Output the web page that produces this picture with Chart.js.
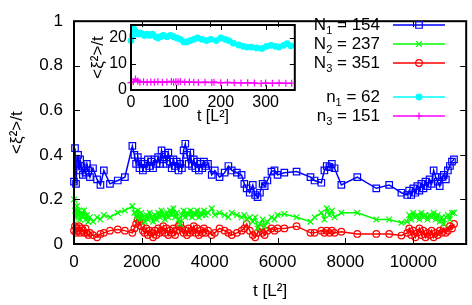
<!DOCTYPE html>
<html>
<head>
<meta charset="utf-8">
<script src="https://cdn.jsdelivr.net/npm/chart.js@4.4.1/dist/chart.umd.min.js"></script>
<style>
  html, body { margin: 0; padding: 0; background: #fff; }
  #wrap { position: relative; width: 472px; height: 305px; }
  canvas { position: absolute; left: 0; top: 0; }
</style>
</head>
<body>
<div id="wrap">
  <canvas id="mainChart" width="472" height="305"></canvas>
  <canvas id="insetChart" width="300" height="126"></canvas>
</div>
<script>
// time points shared by the three big runs
const tTimes = [0, 30, 60, 90, 120, 150, 180, 220, 260, 300, 340, 380, 420, 470,
  560, 680, 780, 880, 1060, 1290, 1500, 1720,
  1780, 1830, 1880, 1930, 1980, 2030, 2080, 2130, 2180, 2230, 2280, 2330, 2380, 2430, 2480,
  2530, 2580, 2630, 2680, 2730, 2780, 2830, 2880, 2930, 2980, 3030, 3080, 3130, 3180, 3230,
  3280, 3330, 3380, 3430, 3480, 3530, 3580, 3630, 3680, 3730, 3780, 3830, 3880,
  3950, 4060, 4150, 4290, 4440, 4550, 4650, 4800, 4940, 5020, 5090, 5180, 5270, 5340, 5410,
  5480, 5560, 5620, 5700, 5820, 5910, 6000,
  6200, 6560, 6970, 7090, 7290, 7380, 7450, 7530, 7600, 7680, 7880, 8350, 8910, 9290, 9650,
  9820, 9880, 9940, 10000, 10060, 10120, 10180, 10240, 10300, 10360, 10420, 10480, 10540,
  10600, 10660, 10720, 10780, 10840, 10900, 10960, 11020, 11080, 11140, 11200];

const bigN1 = [0.28, 0.43, 0.27, 0.36, 0.40, 0.33, 0.38, 0.35, 0.31, 0.34, 0.32, 0.36, 0.33, 0.30,
  0.34, 0.29, 0.265, 0.33, 0.27, 0.285, 0.30, 0.44,
  0.40, 0.36, 0.39, 0.34, 0.37, 0.33, 0.36, 0.34, 0.38, 0.35, 0.37, 0.34, 0.38, 0.36, 0.39,
  0.36, 0.42, 0.38, 0.40, 0.36, 0.41, 0.37, 0.34, 0.38, 0.35, 0.37, 0.33, 0.36, 0.34, 0.42,
  0.45, 0.40, 0.36, 0.41, 0.35, 0.38, 0.34, 0.37, 0.33, 0.36, 0.34, 0.37, 0.35,
  0.36, 0.31, 0.33, 0.30, 0.32, 0.35, 0.33, 0.32, 0.31, 0.27, 0.25, 0.23, 0.265, 0.22, 0.21,
  0.23, 0.27, 0.26, 0.285, 0.325, 0.33, 0.31,
  0.32, 0.325, 0.30, 0.285, 0.275, 0.33, 0.35, 0.345, 0.36, 0.34, 0.265, 0.30, 0.25, 0.265, 0.23,
  0.22, 0.24, 0.22, 0.25, 0.23, 0.26, 0.24, 0.27, 0.25, 0.28, 0.26, 0.29, 0.27,
  0.33, 0.30, 0.28, 0.26, 0.30, 0.31, 0.29, 0.33, 0.35, 0.37, 0.38];

const bigN2 = [0.20, 0.15, 0.12, 0.17, 0.13, 0.15, 0.11, 0.14, 0.12, 0.15, 0.11, 0.13, 0.10, 0.12,
  0.10, 0.12, 0.11, 0.13, 0.12, 0.14, 0.15, 0.17,
  0.14, 0.12, 0.15, 0.11, 0.14, 0.12, 0.10, 0.13, 0.11, 0.14, 0.12, 0.10, 0.13, 0.11, 0.14,
  0.12, 0.15, 0.13, 0.11, 0.14, 0.12, 0.15, 0.13, 0.16, 0.12, 0.14, 0.11, 0.09, 0.13, 0.15,
  0.12, 0.14, 0.13, 0.15, 0.12, 0.14, 0.13, 0.15, 0.12, 0.14, 0.13, 0.15, 0.13,
  0.14, 0.16, 0.13, 0.14, 0.13, 0.12, 0.14, 0.13, 0.12, 0.13, 0.11, 0.12, 0.10, 0.12, 0.07,
  0.09, 0.11, 0.08, 0.10, 0.12, 0.11, 0.13,
  0.135, 0.12, 0.10, 0.12, 0.14, 0.11, 0.16, 0.13, 0.15, 0.12, 0.14, 0.14, 0.11, 0.11, 0.095,
  0.10, 0.13, 0.11, 0.14, 0.12, 0.13, 0.11, 0.14, 0.12, 0.13, 0.11, 0.13, 0.12,
  0.14, 0.11, 0.13, 0.10, 0.12, 0.09, 0.12, 0.13, 0.11, 0.14, 0.14];

const bigN3 = [0.06, 0.08, 0.05, 0.07, 0.06, 0.08, 0.05, 0.07, 0.06, 0.05, 0.07, 0.05, 0.04, 0.05,
  0.04, 0.03, 0.045, 0.05, 0.06, 0.065, 0.06, 0.05,
  0.07, 0.09, 0.11, 0.10, 0.08, 0.06, 0.05, 0.07, 0.04, 0.06, 0.05, 0.03, 0.06, 0.04, 0.07,
  0.05, 0.06, 0.08, 0.05, 0.07, 0.04, 0.06, 0.05, 0.07, 0.04, 0.06, 0.08, 0.09, 0.07, 0.05,
  0.06, 0.04, 0.07, 0.05, 0.06, 0.08, 0.05, 0.07, 0.04, 0.06, 0.05, 0.07, 0.05,
  0.06, 0.04, 0.05, 0.07, 0.06, 0.05, 0.04, 0.05, 0.06, 0.07, 0.09, 0.06, 0.04, 0.03, 0.05,
  0.07, 0.05, 0.04, 0.06, 0.07, 0.06, 0.07,
  0.07, 0.08, 0.05, 0.05, 0.06, 0.05, 0.06, 0.05, 0.06, 0.05, 0.055, 0.045, 0.045, 0.045, 0.038,
  0.05, 0.07, 0.04, 0.06, 0.03, 0.05, 0.07, 0.04, 0.06, 0.03, 0.05, 0.04, 0.06,
  0.03, 0.05, 0.04, 0.06, 0.05, 0.07, 0.05, 0.06, 0.08, 0.07, 0.09];

// inset: small runs
const smallT1 = [0, 3, 6, 9, 12, 16, 20, 25, 30, 36, 42, 48, 55, 60, 66, 72, 80, 88, 95, 102,
  110, 118, 124, 132, 140, 148, 158, 168, 178, 190, 200, 210, 218, 228, 240, 250, 258, 268,
  280, 292, 302, 312, 322, 330, 340, 348, 356];
const smallN1 = [19, 21, 23.5, 22.5, 22, 21.5, 22, 21.5, 21, 21.5, 21, 21.5, 20.5, 20, 20.5, 21,
  20.5, 21, 20.5, 20, 19.5, 18.5, 18.5, 19, 19.5, 20, 19.5, 19, 19.5, 19, 20, 19.5, 19, 18,
  17.3, 16.8, 16.5, 16.5, 16.2, 16, 16.8, 17.2, 16.8, 16.5, 17.2, 17.8, 17];
const smallT3 = [0, 5, 10, 15, 20, 28, 36, 44, 52, 60, 70, 80, 90, 95, 100, 105, 110, 120, 130,
  140, 150, 165, 180, 185, 200, 215, 230, 245, 260, 275, 290, 300, 315, 330, 345, 358];
const smallN3 = [2.8, 3.2, 4.2, 3.5, 3.0, 3.2, 2.9, 3.1, 3.0, 3.2, 3.0, 3.1, 3.3, 3.0, 3.2, 3.1,
  3.3, 3.0, 3.1, 3.0, 2.9, 3.0, 2.9, 3.0, 2.8, 2.9, 2.8, 2.7, 2.8, 2.7, 2.5, 2.7, 2.6, 2.7,
  2.6, 2.6];

// tick positions
const mainXTicks = [0, 2000, 4000, 6000, 8000, 10000];
const mainYTicks = [0, 0.2, 0.4, 0.6, 0.8, 1];
const insetXTicks = [0, 100, 200, 300];
const insetYTicks = [0, 10, 20];

const keyNames = ['N', 'N', 'N', 'n', 'n'];
const keySubs = ['1', '2', '3', '1', '3'];
const keyCounts = [154, 237, 351, 62, 151];

const FONT = '"Liberation Sans", Arial, sans-serif';

function pts(xs, ys) {
  return xs.map((x, i) => ({x: x, y: ys[i]}));
}

function fixedTicks(list) {
  return s => { s.ticks = list.map(v => ({value: v})); };
}

const BLUE = '#0000ff', GREEN = '#00ff00', RED = '#ff0000', CYAN = '#00ffff', MAGENTA = '#ff00ff';

const mainStyles = [
  {color: BLUE, pointStyle: 'rect', radius: 4.6, fill: false},
  {color: GREEN, pointStyle: 'crossRot', radius: 4, fill: false},
  {color: RED, pointStyle: 'circle', radius: 3.3, fill: false}
];
const insetStyles = [
  {color: CYAN, pointStyle: 'circle', radius: 2.8, fill: true},
  {color: MAGENTA, pointStyle: 'cross', radius: 3.5, fill: false}
];

function makeDataset(label, data, st) {
  return {
    label: label,
    data: data,
    borderColor: st.color,
    backgroundColor: st.color,
    borderWidth: 1.5,
    pointStyle: st.pointStyle,
    pointRadius: st.radius,
    pointBorderWidth: 1.2,
    pointBorderColor: st.color,
    pointBackgroundColor: st.fill ? st.color : 'rgba(0,0,0,0)',
    tension: 0,
    fill: false,
    clip: false
  };
}

// gnuplot-style frame with inward ticks on all four sides
const frameTicks = {
  id: 'frameTicks',
  afterDatasetsDraw(chart, args, opts) {
    const {ctx, chartArea: a} = chart;
    const x = chart.scales.x, y = chart.scales.y;
    const len = opts.len || 6;
    ctx.save();
    ctx.strokeStyle = '#000';
    ctx.lineWidth = 1;
    ctx.beginPath();
    x.ticks.forEach(t => {
      const px = Math.round(x.getPixelForValue(t.value)) + 0.5;
      ctx.moveTo(px, a.bottom); ctx.lineTo(px, a.bottom - len);
      ctx.moveTo(px, a.top); ctx.lineTo(px, a.top + len);
    });
    y.ticks.forEach(t => {
      const py = Math.round(y.getPixelForValue(t.value)) + 0.5;
      ctx.moveTo(a.left, py); ctx.lineTo(a.left + len, py);
      ctx.moveTo(a.right, py); ctx.lineTo(a.right - len, py);
    });
    ctx.stroke();
    ctx.lineWidth = 2;
    ctx.strokeRect(a.left, a.top, a.right - a.left, a.bottom - a.top);
    ctx.restore();
  }
};

// key: text right-justified, sample line to its right
const keyPlugin = {
  id: 'keyPlugin',
  afterDraw(chart, args, opts) {
    const ctx = chart.ctx;
    const styles = mainStyles.concat(insetStyles);
    const rows = opts.rows;
    ctx.save();
    ctx.textBaseline = 'middle';
    keyNames.forEach((name, i) => {
      const y = rows[i];
      const rest = ' = ' + keyCounts[i];
      ctx.font = '17px ' + FONT;
      const wName = ctx.measureText(name).width;
      const wRest = ctx.measureText(rest).width;
      ctx.font = '11px ' + FONT;
      const wSub = ctx.measureText(keySubs[i]).width;
      let x = opts.textRight - wName - wSub - wRest;
      ctx.fillStyle = '#000';
      ctx.font = '17px ' + FONT;
      ctx.fillText(name, x, y);
      x += wName;
      ctx.font = '11px ' + FONT;
      ctx.fillText(keySubs[i], x, y + 6);
      x += wSub;
      ctx.font = '17px ' + FONT;
      ctx.fillText(rest, x, y);

      const st = styles[i];
      ctx.strokeStyle = st.color;
      ctx.lineWidth = 1.5;
      ctx.beginPath();
      ctx.moveTo(opts.lineLeft, y);
      ctx.lineTo(opts.lineRight, y);
      ctx.stroke();
      ctx.lineWidth = 1.2;
      ctx.fillStyle = st.fill ? st.color : 'rgba(0,0,0,0)';
      Chart.helpers.drawPoint(ctx, {pointStyle: st.pointStyle, radius: st.radius, borderWidth: 1.2, rotation: 0},
        (opts.lineLeft + opts.lineRight) / 2, y);
    });
    ctx.restore();
  }
};

new Chart(document.getElementById('mainChart'), {
  type: 'line',
  data: {
    datasets: [
      makeDataset('N1 = 154', pts(tTimes, bigN1), mainStyles[0]),
      makeDataset('N2 = 237', pts(tTimes, bigN2), mainStyles[1]),
      makeDataset('N3 = 351', pts(tTimes, bigN3), mainStyles[2])
    ]
  },
  options: {
    responsive: false,
    animation: false,
    devicePixelRatio: 1,
    layout: {padding: {left: 0, right: 5, top: 10, bottom: 0}},
    plugins: {
      legend: {display: false},
      tooltip: {enabled: false},
      frameTicks: {len: 6},
      keyPlugin: {rows: [25, 44, 63, 97, 116], textRight: 380, lineLeft: 393, lineRight: 445}
    },
    scales: {
      x: {
        type: 'linear',
        min: 0,
        max: 11560,
        grid: {display: false, drawTicks: false},
        border: {display: false},
        afterBuildTicks: fixedTicks(mainXTicks),
        ticks: {padding: 8, color: '#000', maxRotation: 0, autoSkip: false,
          callback: v => String(v), font: {family: FONT, size: 17}},
        title: {display: true, text: 't [L²]', color: '#000', padding: {top: 0, bottom: 3},
          font: {family: FONT, size: 17}},
        afterFit: s => { s.height = 61; }
      },
      y: {
        min: 0,
        max: 1,
        grid: {display: false, drawTicks: false},
        border: {display: false},
        afterBuildTicks: fixedTicks(mainYTicks),
        ticks: {padding: 11, color: '#000', autoSkip: false,
          callback: v => String(v), font: {family: FONT, size: 17}},
        title: {display: true, text: '<ξ²>/t', color: '#000', padding: {top: 7, bottom: 0},
          font: {family: FONT, size: 17}},
        afterFit: s => { s.width = 74; }
      }
    }
  },
  plugins: [frameTicks, keyPlugin]
});

new Chart(document.getElementById('insetChart'), {
  type: 'line',
  data: {
    datasets: [
      makeDataset('n1 = 62', pts(smallT1, smallN1), insetStyles[0]),
      makeDataset('n3 = 151', pts(smallT3, smallN3), insetStyles[1])
    ]
  },
  options: {
    responsive: false,
    animation: false,
    devicePixelRatio: 1,
    layout: {padding: {left: 0, right: 5, top: 25, bottom: 0}},
    plugins: {
      legend: {display: false},
      tooltip: {enabled: false},
      frameTicks: {len: 5}
    },
    scales: {
      x: {
        type: 'linear',
        min: 0,
        max: 365,
        grid: {display: false, drawTicks: false},
        border: {display: false},
        afterBuildTicks: fixedTicks(insetXTicks),
        ticks: {padding: 3, color: '#000', maxRotation: 0, autoSkip: false,
          callback: v => String(v), font: {family: FONT, size: 16}},
        title: {display: true, text: 't [L²]', color: '#000', padding: {top: 0, bottom: 0},
          font: {family: FONT, size: 16}},
        afterFit: s => { s.height = 36; }
      },
      y: {
        min: 0,
        max: 25,
        grid: {display: false, drawTicks: false},
        border: {display: false},
        afterBuildTicks: fixedTicks(insetYTicks),
        ticks: {padding: 4, color: '#000', autoSkip: false,
          callback: v => String(v), font: {family: FONT, size: 16}},
        title: {display: true, text: '<ξ²>/t', color: '#000', padding: {top: 88, bottom: 0},
          font: {family: FONT, size: 17}},
        afterFit: s => { s.width = 131; }
      }
    }
  },
  plugins: [frameTicks]
});
</script>
</body>
</html>
